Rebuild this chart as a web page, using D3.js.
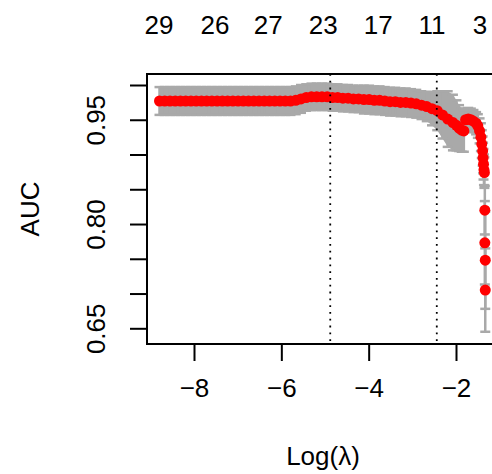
<!DOCTYPE html>
<html>
<head>
<meta charset="utf-8">
<script src="https://cdn.jsdelivr.net/npm/d3@7"></script>
<style>
  body { margin: 0; background: #fff; }
  svg text { font-family: "Liberation Sans", Arial, sans-serif; fill: #000; }
</style>
</head>
<body>
<div id="chart"></div>
<script>
// cross-validated AUC along the lambda path
const logLambda = [
  -8.79, -8.67, -8.55, -8.43, -8.31, -8.19, -8.07, -7.95, -7.83, -7.71,
  -7.59, -7.47, -7.35, -7.23, -7.11, -6.99, -6.87, -6.75, -6.63, -6.51,
  -6.39, -6.27, -6.15, -6.03, -5.91, -5.79, -5.67, -5.55, -5.43, -5.31,
  -5.19, -5.07, -4.95, -4.83, -4.71, -4.59, -4.47, -4.35, -4.23, -4.11,
  -3.99, -3.87, -3.75, -3.63, -3.51, -3.39, -3.27, -3.15, -3.03, -2.91,
  -2.79, -2.67, -2.55, -2.43, -2.31, -2.19, -2.07, -1.99, -1.93, -1.87,
  -1.82, -1.78, -1.72, -1.66, -1.60, -1.54, -1.50, -1.46, -1.43, -1.41,
  -1.39, -1.38, -1.37, -1.36, -1.35,
  -1.34, -1.34, -1.33, -1.33
];
const aucMean = [
  0.977, 0.977, 0.977, 0.977, 0.977, 0.977, 0.977, 0.977, 0.977, 0.977,
  0.977, 0.977, 0.977, 0.977, 0.977, 0.977, 0.977, 0.977, 0.977, 0.977,
  0.977, 0.977, 0.977, 0.977, 0.977, 0.977, 0.978, 0.980, 0.982, 0.983,
  0.983, 0.983, 0.983, 0.982, 0.982, 0.981, 0.981, 0.980, 0.980, 0.979,
  0.979, 0.978, 0.978, 0.977, 0.976, 0.976, 0.975, 0.975, 0.974, 0.973,
  0.971, 0.969, 0.966, 0.963, 0.957, 0.951, 0.946, 0.942, 0.938, 0.935,
  0.934, 0.950, 0.951, 0.950, 0.948, 0.945, 0.941, 0.934, 0.925, 0.915,
  0.905, 0.895, 0.886, 0.878, 0.874,
  0.820, 0.773, 0.748, 0.705
];
const aucSd = [
  0.020, 0.020, 0.020, 0.020, 0.020, 0.020, 0.020, 0.020, 0.020, 0.020,
  0.020, 0.020, 0.020, 0.020, 0.020, 0.020, 0.020, 0.020, 0.020, 0.020,
  0.020, 0.020, 0.020, 0.020, 0.020, 0.020, 0.020, 0.020, 0.019, 0.019,
  0.019, 0.019, 0.019, 0.019, 0.019, 0.019, 0.019, 0.019, 0.019, 0.020,
  0.020, 0.020, 0.020, 0.020, 0.020, 0.020, 0.020, 0.020, 0.020, 0.020,
  0.020, 0.021, 0.024, 0.028, 0.034, 0.040, 0.040, 0.036, 0.033, 0.031,
  0.030, 0.016, 0.016, 0.016, 0.016, 0.016, 0.017, 0.018, 0.020, 0.020,
  0.021, 0.022, 0.022, 0.022, 0.022,
  0.035, 0.060, 0.070, 0.060
];
// number of nonzero coefficients shown along the top
const topLabelAt = [-8.80, -7.52, -6.30, -5.04, -3.78, -2.55, -1.45];
const topLabels = ["29", "26", "27", "23", "17", "11", "3"];
// lambda.min and lambda.1se
const refLines = [-4.88, -2.44];
const xTicks = [-8, -6, -4, -2];
const yTicks = [0.65, 0.70, 0.75, 0.80, 0.85, 0.90, 0.95, 1.00];
const yLabelled = [0.65, 0.80, 0.95];

const data = logLambda.map((v, i) => ({ x: v, m: aucMean[i], sd: aucSd[i] }));
const bandCount = 75; // points joined by the grey band, the rest stand alone

const W = 492, H = 474;
const box = { left: 147, top: 74, right: 499, bottom: 344 };

const svg = d3.select("#chart").append("svg")
    .attr("width", W)
    .attr("height", H);

// scales set from the tick positions
const x = d3.scaleLinear().domain([-8, -2]).range([194, 456]);
const y = d3.scaleLinear().domain([0.65, 1.00]).range([328.3, 85]);

const grey = "#a9a9a9";

// grey band (cvm +- cvsd)
const area = d3.area()
    .x(d => x(d.x))
    .y0(d => y(d.m - d.sd))
    .y1(d => y(d.m + d.sd));
svg.append("path")
    .datum(data.slice(0, bandCount))
    .attr("d", area)
    .attr("fill", grey);

// error bars
const barW = 5;
const bars = svg.append("g")
    .attr("stroke", grey)
    .attr("stroke-width", 2.5);
bars.selectAll("line.v")
    .data(data)
    .join("line")
    .attr("class", "v")
    .attr("x1", d => x(d.x)).attr("x2", d => x(d.x))
    .attr("y1", d => y(d.m + d.sd)).attr("y2", d => y(d.m - d.sd));
bars.selectAll("line.u")
    .data(data)
    .join("line")
    .attr("class", "u")
    .attr("x1", d => x(d.x) - barW).attr("x2", d => x(d.x) + barW)
    .attr("y1", d => y(d.m + d.sd)).attr("y2", d => y(d.m + d.sd));
bars.selectAll("line.l")
    .data(data)
    .join("line")
    .attr("class", "l")
    .attr("x1", d => x(d.x) - barW).attr("x2", d => x(d.x) + barW)
    .attr("y1", d => y(d.m - d.sd)).attr("y2", d => y(d.m - d.sd));

// mean points
svg.append("g")
    .selectAll("circle")
    .data(data)
    .join("circle")
    .attr("cx", d => x(d.x))
    .attr("cy", d => y(d.m))
    .attr("r", 5.5)
    .attr("fill", "#ff0000");

// dotted reference lines
svg.append("g")
    .selectAll("line")
    .data(refLines)
    .join("line")
    .attr("x1", d => x(d)).attr("x2", d => x(d))
    .attr("y1", box.top).attr("y2", box.bottom)
    .attr("stroke", "#000")
    .attr("stroke-width", 1.8)
    .attr("stroke-dasharray", "1.8,5");

// bottom axis
const xAxis = svg.append("g")
    .attr("transform", `translate(0,${box.bottom})`)
    .call(d3.axisBottom(x).tickValues(xTicks).tickSize(17).tickSizeOuter(0)
        .tickFormat(d3.format("d")));
xAxis.select(".domain").remove();
xAxis.selectAll("line").attr("stroke-width", 2);
xAxis.selectAll("text")
    .attr("y", 53)
    .attr("dy", 0)
    .attr("font-size", 26)
    .attr("font-family", "Liberation Sans, Arial, sans-serif");

// left axis, R style rotated labels, some skipped
const yAxis = svg.append("g")
    .attr("transform", `translate(${box.left},0)`)
    .call(d3.axisLeft(y).tickValues(yTicks).tickSize(17).tickSizeOuter(0)
        .tickFormat(d => yLabelled.some(v => Math.abs(v - d) < 1e-9) ? d3.format(".2f")(d) : ""));
yAxis.select(".domain").remove();
yAxis.selectAll("line").attr("stroke-width", 2);
yAxis.selectAll("text")
    .attr("x", 0)
    .attr("y", -42)
    .attr("dy", 0)
    .attr("transform", "rotate(-90)")
    .attr("text-anchor", "middle")
    .attr("font-size", 26)
    .attr("font-family", "Liberation Sans, Arial, sans-serif");

// top labels (no ticks)
svg.append("g")
    .selectAll("text")
    .data(topLabelAt)
    .join("text")
    .attr("x", d => x(d))
    .attr("y", 34)
    .attr("text-anchor", "middle")
    .attr("font-size", 26)
    .text((d, i) => topLabels[i]);

// plot box
svg.append("rect")
    .attr("x", box.left)
    .attr("y", box.top)
    .attr("width", box.right - box.left)
    .attr("height", box.bottom - box.top)
    .attr("fill", "none")
    .attr("stroke", "#000")
    .attr("stroke-width", 2);

// axis titles
svg.append("text")
    .attr("x", (box.left + box.right) / 2)
    .attr("y", 465)
    .attr("text-anchor", "middle")
    .attr("font-size", 26)
    .text("Log(λ)");

svg.append("text")
    .attr("transform", `translate(39,${(box.top + box.bottom) / 2}) rotate(-90)`)
    .attr("text-anchor", "middle")
    .attr("font-size", 26)
    .text("AUC");
</script>
</body>
</html>
